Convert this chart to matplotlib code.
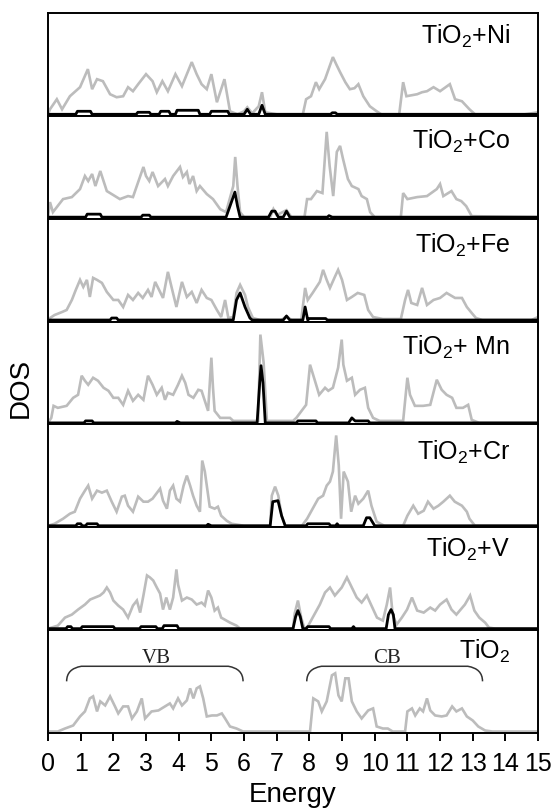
import numpy as np
import matplotlib.pyplot as plt
from matplotlib.path import Path
from matplotlib.patches import PathPatch

plt.rcParams['font.family'] = ['Liberation Sans', 'DejaVu Sans']
plt.rcParams['mathtext.fontset'] = 'custom'
plt.rcParams['mathtext.rm'] = 'Liberation Sans'
plt.rcParams['mathtext.default'] = 'regular'

# energia (eV), DOS (jedn. umowne) - całkowita DOS (szara) i DOS domieszki (czarna)
ni_total = [(0.0,0),(0.06,5),(0.27,15),(0.43,5),(0.67,18),(0.98,27),(1.22,45),(1.35,25),(1.5,35),(1.68,33),(1.9,20),(2.1,17),(2.3,18),(2.45,27),(2.6,23),(2.76,30),(3.0,40),(3.2,33),(3.33,22),(3.5,33),(3.67,23),(3.9,40),(4.1,28),(4.25,40),(4.4,52),(4.55,40),(4.7,30),(4.86,25),(5.0,40),(5.17,12),(5.4,35),(5.57,3),(5.8,0),(6.0,3),(6.1,7),(6.25,1),(6.45,8),(6.55,22),(6.65,2),(7.0,0),(7.8,0),(7.9,15),(8.05,18),(8.2,32),(8.3,25),(8.48,35),(8.72,57),(8.82,50),(8.94,42),(9.1,32),(9.24,25),(9.38,26),(9.5,30),(9.65,18),(9.85,8),(10.06,3),(10.2,0),(10.75,0),(10.87,32),(10.97,18),(11.3,20),(11.45,22),(11.6,23),(11.8,27),(12.0,23),(12.3,30),(12.46,15),(12.67,13),(12.9,5),(13.07,0),(14.6,0),(15,2)]
ni_dopant = [(0,0),(0.85,0),(0.9,3),(1.3,3),(1.35,0),(2.7,0),(2.75,2),(3.1,2),(3.15,0),(3.4,0),(3.45,3),(3.7,3),(3.75,0),(3.9,0),(3.95,4),(4.6,4),(4.65,0),(4.95,0),(5.0,3),(5.5,3),(5.55,0),(6.0,0),(6.1,5),(6.2,0),(6.45,0),(6.55,9),(6.65,0),(8.65,0),(8.7,1.5),(8.8,1.5),(8.85,0),(15,0)]

co_total = [(0,0),(0.06,15),(0.15,5),(0.46,18),(0.73,20),(0.98,28),(1.13,41),(1.23,36),(1.35,43),(1.45,31),(1.6,46),(1.68,38),(1.8,26),(2.05,21),(2.2,18),(2.45,21),(2.6,20),(2.76,35),(2.92,50),(3.0,41),(3.1,36),(3.2,45),(3.37,31),(3.58,38),(3.67,31),(3.83,41),(4.04,50),(4.13,40),(4.25,45),(4.33,33),(4.44,41),(4.55,26),(4.65,31),(4.86,23),(5.05,18),(5.27,8),(5.45,5),(5.67,31),(5.73,60),(5.8,31),(5.88,5),(6.0,0),(6.8,0),(6.9,8),(7.0,2),(7.3,7),(7.45,0),(7.85,0),(7.93,18),(8.05,18),(8.23,26),(8.4,24),(8.53,85),(8.62,51),(8.73,21),(8.84,65),(8.94,71),(9.03,58),(9.18,38),(9.3,31),(9.5,28),(9.6,21),(9.76,18),(9.86,5),(10.0,0),(10.8,0),(10.87,24),(11.0,18),(11.3,20),(11.6,21),(11.9,28),(12.0,33),(12.1,21),(12.35,26),(12.5,18),(12.65,16),(12.8,11),(12.97,1),(15,0)]
co_dopant = [(0,0),(1.15,0),(1.2,3),(1.6,3),(1.65,0),(2.85,0),(2.9,2),(3.1,2),(3.15,0),(5.45,0),(5.57,11),(5.72,25),(5.8,11),(5.88,0),(6.75,0),(6.85,6),(6.95,6),(7.05,0),(7.2,0),(7.3,6),(7.4,0),(8.55,0),(8.6,1.5),(8.7,0),(15,0)]

fe_total = [(0,0),(0.06,2),(0.2,5),(0.43,8),(0.57,10),(0.73,20),(0.85,30),(0.98,40),(1.08,33),(1.19,40),(1.28,23),(1.38,42),(1.5,40),(1.65,37),(1.8,28),(2.0,20),(2.15,20),(2.3,13),(2.45,25),(2.6,20),(2.76,27),(2.9,22),(3.06,30),(3.17,23),(3.28,38),(3.37,32),(3.52,22),(3.67,48),(3.78,33),(3.93,13),(4.1,38),(4.25,23),(4.4,28),(4.55,17),(4.7,30),(4.86,22),(5.0,20),(5.17,10),(5.3,3),(5.42,20),(5.52,2),(5.67,3),(5.77,27),(5.88,35),(6.03,25),(6.12,13),(6.27,2),(6.5,0),(7.15,0),(7.3,4),(7.45,0),(7.75,0),(7.87,32),(7.95,20),(8.1,27),(8.32,38),(8.42,50),(8.53,40),(8.63,32),(8.78,43),(8.88,50),(9.0,40),(9.15,20),(9.3,23),(9.48,27),(9.68,25),(9.8,10),(9.95,3),(10.25,1),(10.8,1),(10.93,20),(11.02,30),(11.12,17),(11.3,15),(11.45,32),(11.6,15),(11.8,20),(12.0,22),(12.2,27),(12.46,22),(12.67,22),(12.82,13),(12.97,7),(13.1,2),(13.3,0),(14.8,0),(15,3)]
fe_dopant = [(0,0),(1.9,0),(1.95,2),(2.1,2),(2.15,0),(5.67,0),(5.77,20),(5.88,27),(6.03,13),(6.18,2),(6.25,0),(7.2,0),(7.3,4),(7.4,0),(7.8,0),(7.87,13),(7.95,0),(8.0,1.5),(8.5,1.5),(8.55,0),(15,0)]

mn_total = [(0,0),(0.1,5),(0.17,17),(0.3,15),(0.57,17),(0.77,25),(0.92,28),(1.03,47),(1.13,42),(1.23,38),(1.38,45),(1.53,42),(1.7,35),(1.85,32),(2.0,25),(2.15,25),(2.3,18),(2.45,32),(2.6,22),(2.76,28),(2.92,23),(3.06,47),(3.2,38),(3.33,28),(3.48,35),(3.58,23),(3.67,30),(3.83,28),(3.98,38),(4.1,47),(4.2,40),(4.3,28),(4.45,25),(4.6,33),(4.7,32),(4.8,22),(4.9,12),(5.0,65),(5.05,35),(5.1,12),(5.27,5),(5.57,5),(5.67,2),(6.43,2),(6.5,88),(6.6,60),(6.7,2),(7.5,2),(7.6,5),(7.9,18),(8.02,58),(8.17,42),(8.3,28),(8.48,35),(8.58,32),(8.72,35),(8.88,55),(8.99,83),(9.04,58),(9.15,42),(9.3,45),(9.4,28),(9.55,33),(9.7,35),(9.8,15),(9.95,5),(10.15,2),(10.87,2),(11.0,45),(11.08,28),(11.23,17),(11.48,17),(11.7,18),(11.9,43),(12.05,33),(12.2,28),(12.37,25),(12.5,15),(12.7,15),(12.86,18),(12.97,3),(13.2,0),(15,0)]
mn_dopant = [(0,0),(1.1,0),(1.15,2),(1.35,2),(1.4,0),(3.9,0),(3.95,1.5),(4.05,0),(6.4,0),(6.48,40),(6.52,57),(6.58,40),(6.65,0),(7.6,0),(7.65,2),(8.2,2),(8.25,0),(9.2,0),(9.3,5),(9.4,2),(9.8,2),(9.85,0),(15,0)]

cr_total = [(0,0),(0.2,2),(0.46,7),(0.67,12),(0.82,14),(0.98,27),(1.13,35),(1.23,40),(1.35,27),(1.5,35),(1.65,33),(1.8,35),(1.95,24),(2.1,14),(2.26,29),(2.35,30),(2.45,20),(2.6,14),(2.76,29),(2.92,24),(3.06,24),(3.2,27),(3.43,37),(3.52,25),(3.64,17),(3.73,35),(3.83,40),(3.93,27),(4.04,24),(4.15,40),(4.25,50),(4.35,40),(4.44,30),(4.55,20),(4.65,14),(4.72,65),(4.8,54),(4.86,40),(4.95,19),(5.1,17),(5.2,19),(5.3,10),(5.47,5),(5.62,2),(5.82,1),(6.0,0),(6.8,0),(6.85,30),(6.95,39),(7.05,30),(7.15,10),(7.26,0),(7.77,0),(7.93,7),(8.1,17),(8.27,27),(8.42,30),(8.53,40),(8.63,44),(8.72,54),(8.82,90),(8.9,60),(8.97,7),(9.05,54),(9.18,44),(9.28,14),(9.4,30),(9.5,22),(9.65,27),(9.8,35),(9.9,20),(10.06,4),(10.3,0),(10.87,0),(11.0,10),(11.18,20),(11.33,12),(11.5,15),(11.63,24),(11.8,17),(11.95,20),(12.1,24),(12.3,30),(12.45,24),(12.67,20),(12.82,14),(12.9,7),(13.07,0),(15,0)]
cr_dopant = [(0,0),(0.85,0),(0.9,2),(1.0,2),(1.05,0),(1.15,0),(1.2,2),(1.5,2),(1.55,0),(4.85,0),(4.9,1.5),(5.0,0),(6.8,0),(6.88,24),(7.04,25),(7.15,10),(7.26,0),(7.9,0),(7.95,2),(8.6,2),(8.65,0),(8.8,0),(8.85,2),(8.9,0),(9.65,0),(9.75,8),(9.85,8),(10.0,0),(15,0)]

v_total = [(0,0),(0.3,3),(0.52,11),(0.73,14),(0.92,19),(1.13,24),(1.29,29),(1.44,31),(1.59,33),(1.7,36),(1.8,41),(1.9,36),(2.0,28),(2.15,23),(2.3,19),(2.45,11),(2.6,23),(2.72,28),(2.82,16),(2.92,33),(3.03,53),(3.12,51),(3.22,48),(3.33,41),(3.43,35),(3.52,19),(3.62,31),(3.73,19),(3.83,31),(3.93,59),(3.98,44),(4.1,28),(4.25,31),(4.4,29),(4.55,24),(4.7,26),(4.8,23),(4.9,38),(5.0,31),(5.1,18),(5.2,21),(5.3,11),(5.57,6),(5.77,3),(5.88,0),(7.5,0),(7.55,15),(7.65,28),(7.75,11),(7.85,0),(7.95,2),(8.1,11),(8.32,24),(8.48,36),(8.63,41),(8.78,33),(8.99,41),(9.15,51),(9.3,41),(9.45,31),(9.6,26),(9.76,33),(9.9,23),(10.07,11),(10.25,8),(10.37,24),(10.47,41),(10.55,14),(10.67,4),(10.83,11),(10.99,19),(11.14,31),(11.3,18),(11.5,16),(11.7,21),(11.85,18),(12.0,24),(12.2,29),(12.35,19),(12.5,14),(12.76,24),(12.92,33),(13.05,18),(13.2,11),(13.38,6),(13.5,1),(13.7,0),(15,0)]
v_dopant = [(0,0),(0.55,0),(0.6,2),(0.7,2),(0.75,0),(1.0,0),(1.05,2),(2.0,2),(2.05,0),(2.8,0),(2.85,2),(3.3,2),(3.35,0),(3.5,0),(3.55,3),(3.95,3),(4.0,0),(7.5,0),(7.58,12),(7.65,18),(7.72,12),(7.8,0),(7.9,0),(7.95,2),(8.6,2),(8.65,0),(9.3,0),(9.35,2),(9.4,0),(10.35,0),(10.42,14),(10.5,19),(10.57,14),(10.62,0),(15,0)]

tio2_total = [(0,0),(0.3,0),(0.52,3),(0.77,6),(0.98,15),(1.13,20),(1.28,33),(1.38,35),(1.5,20),(1.6,30),(1.75,26),(1.9,35),(2.05,25),(2.15,18),(2.3,25),(2.45,25),(2.57,13),(2.72,20),(2.87,33),(2.97,13),(3.17,20),(3.38,21),(3.58,25),(3.73,28),(3.83,23),(3.98,33),(4.1,26),(4.25,31),(4.35,43),(4.45,33),(4.55,43),(4.65,45),(4.75,33),(4.86,15),(5.02,16),(5.17,16),(5.32,18),(5.42,13),(5.57,5),(5.77,3),(5.97,0),(8.02,0),(8.12,33),(8.27,30),(8.38,20),(8.53,30),(8.69,56),(8.79,58),(8.89,36),(8.99,30),(9.1,53),(9.2,53),(9.3,30),(9.45,20),(9.6,13),(9.8,21),(9.95,23),(10.06,5),(10.25,3),(10.4,3),(10.55,0),(10.93,0),(11.0,20),(11.14,23),(11.24,16),(11.38,23),(11.48,20),(11.6,33),(11.7,21),(11.85,16),(12.05,15),(12.2,16),(12.37,25),(12.5,20),(12.67,23),(12.82,15),(13.0,11),(13.17,5),(13.38,1),(13.6,0),(15,0)]

nazwy = ['TiO$_2$+Ni', 'TiO$_2$+Co', 'TiO$_2$+Fe', 'TiO$_2$+ Mn', 'TiO$_2$+Cr', 'TiO$_2$+V', 'TiO$_2$']
calkowite = [ni_total, co_total, fe_total, mn_total, cr_total, v_total, tio2_total]
domieszki = [ni_dopant, co_dopant, fe_dopant, mn_dopant, cr_dopant, v_dopant, None]
y_etykiety = [0.70, 0.68, 0.67, 0.68, 0.66, 0.71, 0.72]

fig = plt.figure(figsize=(5.57, 8.08), dpi=100)
axes = fig.subplots(7, 1, sharex=True, gridspec_kw=dict(hspace=0))
fig.subplots_adjust(left=0.0862, right=0.966, top=0.984, bottom=0.0928)

for ax, nazwa, tot, dom, ye in zip(axes, nazwy, calkowite, domieszki, y_etykiety):
    e, d = np.array(tot).T
    ax.plot(e, d, color='#bcbcbc', lw=1.9, solid_joinstyle='miter')
    if dom is not None:
        e2, d2 = np.array(dom).T
        ax.plot(e2, d2, color='black', lw=2.0)
    ax.set_xlim(0, 15)
    ax.set_ylim(-1.5, 101)
    ax.set_yticks([])
    for s in ax.spines.values():
        s.set_linewidth(1.4)
    ax.tick_params(axis='x', length=0)
    ax.text(0.943, ye, nazwa, transform=ax.transAxes, ha='right', va='baseline', fontsize=18)

# klamry VB / CB na dolnym wykresie
ax = axes[-1]
def klamra(ax, x0, x1, y_dol, y_gora, dx=0.45, dy=12):
    verts = [(x0, y_dol), (x0, y_gora - dy * 0.2), (x0 + dx, y_gora),
             (x1 - dx, y_gora), (x1, y_gora - dy * 0.2), (x1, y_dol)]
    kody = [Path.MOVETO, Path.CURVE3, Path.CURVE3, Path.LINETO, Path.CURVE3, Path.CURVE3]
    ax.add_patch(PathPatch(Path(verts, kody), fill=False, lw=1.1, ec='#333333'))

klamra(ax, 0.57, 5.97, 50, 65)
klamra(ax, 7.92, 13.3, 50, 65)
ax.text(3.3, 68, 'VB', ha='center', va='baseline', fontsize=15, family='Liberation Serif', color='#222222')
ax.text(10.38, 68, 'CB', ha='center', va='baseline', fontsize=15, family='Liberation Serif', color='#222222')

ax.set_xticks(np.arange(0, 16, 1))
ax.tick_params(axis='x', direction='out', length=6, width=1.4, labelsize=18, pad=8)
ax.set_xlabel('Energy', fontsize=20, labelpad=4)
fig.text(0.038, 0.52, 'DOS', rotation=90, ha='center', va='center', fontsize=20)

plt.savefig('out.png', dpi=100)
